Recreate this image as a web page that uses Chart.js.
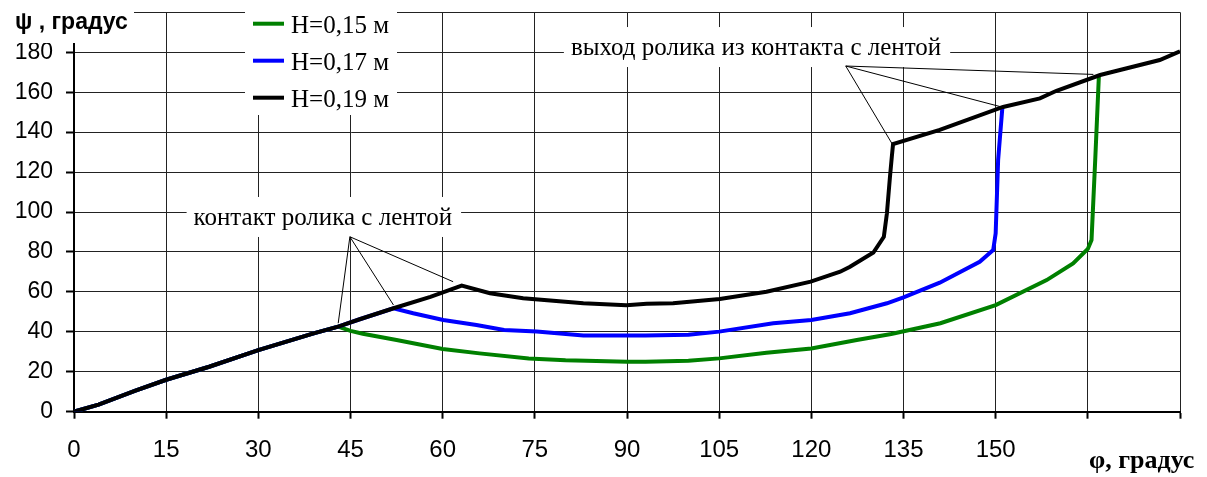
<!DOCTYPE html>
<html><head><meta charset="utf-8">
<script src="https://cdn.jsdelivr.net/npm/chart.js@4/dist/chart.umd.min.js"></script>
<style>html,body{margin:0;padding:0;background:#fff}canvas{display:block}</style>
</head><body>
<canvas id="c" width="1207" height="477"></canvas>
<script>
// ---------- data (φ, ψ in degrees) ----------
const seriesLabels = ['H=0,15 м', 'H=0,17 м', 'H=0,19 м'];
const seriesColors = ['#008000', '#0000ff', '#000000'];

const phi15 = [0, 4, 10, 15, 22, 30, 39, 43, 45, 47, 52.5, 60, 66, 74, 80, 85, 90, 93, 100, 105, 112.7, 120, 127.4, 133, 141, 150, 158.3, 162.6, 165, 165.6, 166.2, 166.8];
const psi15 = [0, 3.5, 10.5, 16, 22.5, 30.8, 39.2, 42.6, 40.5, 39, 35.9, 31.4, 29.2, 26.7, 25.8, 25.4, 25, 25, 25.5, 26.7, 29.5, 31.7, 35.9, 38.9, 44.3, 53.4, 65.9, 74.3, 81.5, 86, 126, 168.3];

const phi17 = [0, 4, 10, 15, 22, 30, 39, 43, 46.5, 52, 55.2, 60.1, 65.5, 70, 75.3, 82.9, 93, 100, 105, 113.8, 120, 126.3, 132.3, 135, 140.9, 147.4, 149.6, 150, 150.4, 151.1];
const psi17 = [0, 3.5, 10.5, 16, 22.5, 30.8, 39.2, 42.6, 46.3, 51.8, 49.3, 45.9, 43.4, 40.9, 40.1, 38.1, 38.1, 38.5, 40.1, 44.3, 45.9, 49.3, 54.3, 57.3, 64.6, 75.1, 81, 89.3, 126, 152.7];

const phi19 = [0, 4, 10, 15, 22, 30, 39, 43, 46.5, 52, 58, 63.1, 67.7, 73.1, 82.9, 89.9, 93.2, 97.5, 105.1, 112.7, 119.9, 124.7, 126.3, 130.1, 131.8, 132.3, 132.8, 133.1, 133.3, 140.9, 151.2, 157.2, 159.9, 167, 176.7, 180];
const psi19 = [0, 3.5, 10.5, 16, 22.5, 30.8, 39.2, 42.6, 46.3, 51.8, 57.5, 63.1, 59.3, 56.8, 54.3, 53.3, 54.1, 54.3, 56.4, 60.1, 65.1, 70.1, 72.6, 79.7, 87.6, 99.3, 117.7, 127.7, 134, 141.1, 152.6, 156.9, 160.7, 168.6, 176.1, 180.5];

const xTickLabels = ['0', '15', '30', '45', '60', '75', '90', '105', '120', '135', '150', '', ''];
const yTickLabels = ['0', '20', '40', '60', '80', '100', '120', '140', '160', '180', ''];
const xTitle = 'φ, градус';
const yTitle = 'ψ , градус';

// annotation text, its anchor (data units) and leader lines
const notes = [
  { text: 'контакт ролика с лентой', at: [40.5, 93.5], from: [44.9, 87.6],
    to: [[43.0, 44.3], [52.0, 53.4], [61.7, 65.1]] },
  { text: 'выход ролика из контакта с лентой', at: [111.0, 178.6], from: [125.6, 173.1],
    to: [[133.1, 134.4], [151.2, 152.4], [165.9, 168.9]] }
];

const pts = (xs, ys) => xs.map((v, i) => ({ x: v, y: ys[i] }));
const allData = [pts(phi15, psi15), pts(phi17, psi17), pts(phi19, psi19)];

const datasets = allData.map((d, i) => ({
  label: seriesLabels[i],
  data: d,
  borderColor: seriesColors[i],
  backgroundColor: seriesColors[i],
  borderWidth: 4,
  pointRadius: 0,
  tension: 0,
  fill: false,
  order: 2 - i
}));

const SERIF = '"Liberation Serif", "Times New Roman", serif';
const SANS = '"Liberation Sans", Arial, sans-serif';

const overlay = {
  id: 'overlay',
  afterDraw(chart) {
    const { ctx, scales: { x, y }, chartArea } = chart;
    ctx.save();
    // annotations
    ctx.font = '25px ' + SERIF;
    for (const a of notes) {
      const cx = x.getPixelForValue(a.at[0]);
      const by = y.getPixelForValue(a.at[1]);
      const w = ctx.measureText(a.text).width;
      ctx.fillStyle = '#fff';
      ctx.fillRect(cx - w / 2 - 7, by - 28, w + 16, 40);
      ctx.fillStyle = '#000';
      ctx.textAlign = 'center';
      ctx.textBaseline = 'alphabetic';
      ctx.fillText(a.text, cx, by);
      ctx.strokeStyle = '#000';
      ctx.lineWidth = 1;
      const ox = x.getPixelForValue(a.from[0]), oy = y.getPixelForValue(a.from[1]);
      for (const t of a.to) {
        ctx.beginPath();
        ctx.moveTo(ox, oy);
        ctx.lineTo(x.getPixelForValue(t[0]), y.getPixelForValue(t[1]));
        ctx.stroke();
      }
    }
    // legend
    const lx = chartArea.left + 171, ly = 13;
    ctx.fillStyle = '#fff';
    ctx.fillRect(lx, ly - 2, 152, 104);
    ctx.font = '25px ' + SERIF;
    ctx.textAlign = 'left';
    ctx.textBaseline = 'alphabetic';
    chart.data.datasets.forEach((ds, i) => {
      const base = 33.3 + i * 37;
      ctx.strokeStyle = ds.borderColor;
      ctx.lineWidth = 4;
      ctx.beginPath();
      ctx.moveTo(lx + 8, base - 9.6);
      ctx.lineTo(lx + 39, base - 9.6);
      ctx.stroke();
      ctx.fillStyle = '#000';
      ctx.fillText(ds.label, lx + 46, base);
    });
    // y title
    ctx.fillStyle = '#fff';
    ctx.fillRect(0, 0, 134, 43);
    ctx.fillStyle = '#000';
    ctx.font = 'bold 23px ' + SANS;
    ctx.fillText(yTitle, 15, 28.5);
    // x title
    ctx.font = 'bold 26px ' + SERIF;
    ctx.fillText(xTitle, 1089, 468);
    ctx.restore();
  }
};

new Chart(document.getElementById('c'), {
  type: 'line',
  data: { datasets },
  options: {
    responsive: false,
    devicePixelRatio: 1,
    animation: false,
    layout: { padding: { top: 12.3, right: 27, left: 0, bottom: 0 } },
    plugins: {
      legend: { display: false },
      tooltip: { enabled: false }
    },
    scales: {
      x: {
        type: 'linear', min: 0, max: 180,
        afterFit: s => { s.height = 65.3; s.paddingLeft = 0; s.paddingRight = 0; },
        ticks: {
          stepSize: 15, color: '#000', padding: 19,
          font: { family: SANS, size: 24, lineHeight: 1.07 },
          maxRotation: 0, autoSkip: false,
          callback: (v, i) => xTickLabels[i]
        },
        grid: { color: '#222', lineWidth: 1, tickLength: 7, tickColor: '#000', tickWidth: 2 },
        border: { color: '#000', width: 2 }
      },
      y: {
        min: 0, max: 200,
        afterFit: s => { s.width = 74; s.paddingTop = 0; s.paddingBottom = 0; },
        ticks: {
          stepSize: 20, color: '#000', padding: 13,
          font: { family: SANS, size: 23, lineHeight: 1.07 },
          autoSkip: false,
          callback: (v, i) => yTickLabels[i]
        },
        grid: { color: '#222', lineWidth: 1, tickLength: 8, tickColor: '#000', tickWidth: 2 },
        border: { color: '#000', width: 2 }
      }
    }
  },
  plugins: [overlay]
});
</script>
</body></html>
